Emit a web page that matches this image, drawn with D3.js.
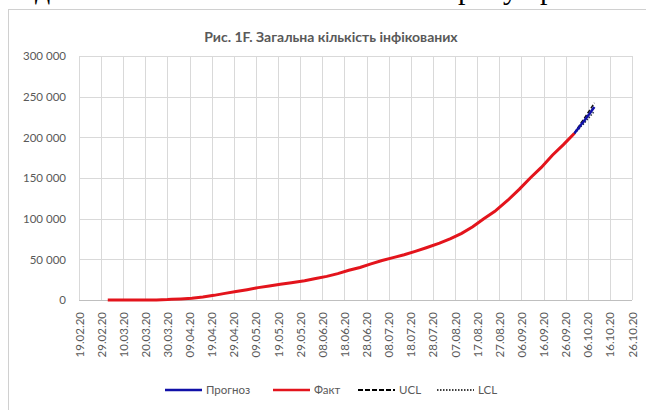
<!DOCTYPE html>
<html>
<head>
<meta charset="utf-8">
<script src="https://cdn.jsdelivr.net/npm/d3@7"></script>
<style>
  body { margin: 0; background: #fff; }
  svg { display: block; font-family: Lato, 'Open Sans', sans-serif; }
</style>
</head>
<body>
<svg width="646" height="410"></svg>
<script>
const parse = d3.timeParse('%d.%m.%y');
const fmt = d3.timeFormat('%d.%m.%y');

// Факт
const factDates = ['03.03.20','10.03.20','13.03.20','17.03.20','20.03.20','25.03.20','30.03.20','01.04.20','05.04.20',
  '10.04.20','15.04.20','20.04.20','25.04.20','30.04.20','05.05.20','10.05.20','15.05.20','20.05.20','25.05.20',
  '31.05.20','05.06.20','10.06.20','15.06.20','20.06.20','25.06.20','30.06.20','05.07.20','10.07.20','15.07.20',
  '20.07.20','25.07.20','31.07.20','05.08.20','10.08.20','15.08.20','20.08.20','25.08.20','31.08.20','05.09.20',
  '10.09.20','15.09.20','20.09.20','25.09.20','30.09.20'];
const factValues = [1, 1, 3, 14, 47, 145, 480, 804, 1319,
  2203, 3764, 5710, 8125, 10406, 12697, 15232, 17330, 19230, 21245,
  23672, 26514, 29070, 32476, 36560, 40008, 44334, 48500, 52043, 55607,
  59802, 64257, 69884, 75490, 82000, 90000, 100000, 109000, 123000, 136000,
  150000, 163000, 178000, 191000, 205000];

// Прогноз, UCL, LCL
const forecastDates = ['30.09.20','01.10.20','02.10.20','03.10.20','04.10.20','05.10.20','06.10.20','07.10.20','08.10.20','09.10.20'];
const forecastValues = [205000, 208700, 211900, 215800, 218900, 222600, 226300, 229600, 233500, 237200];
const uclValues = [205000, 209800, 213600, 218000, 221600, 225800, 229900, 233700, 238100, 242300];
const lclValues = [205000, 207600, 210200, 213600, 216200, 219400, 222700, 225500, 228900, 232100];

const xTickLabels = ['19.02.20','29.02.20','10.03.20','20.03.20','30.03.20','09.04.20','19.04.20','29.04.20','09.05.20',
  '19.05.20','29.05.20','08.06.20','18.06.20','28.06.20','08.07.20','18.07.20','28.07.20','07.08.20','17.08.20',
  '27.08.20','06.09.20','16.09.20','26.09.20','06.10.20','16.10.20','26.10.20'];
const yTicks = [0, 50000, 100000, 150000, 200000, 250000, 300000];

const svg = d3.select('svg');
const plotLeft = 79, plotRight = 632, plotTop = 56, plotBottom = 300;
const grey = '#595959';

// piece of the page text above the chart
svg.append('g')
  .attr('font-family', "'Liberation Serif', serif")
  .attr('font-size', 30)
  .attr('fill', '#000')
  .selectAll('text')
  .data([['д', 35], ['р', 458], ['у', 503], ['р', 540]])
  .join('text')
  .attr('x', d => d[1])
  .attr('y', -1)
  .text(d => d[0]);

svg.append('rect')
  .attr('x', 8.5).attr('y', 9.5)
  .attr('width', 700).attr('height', 500)
  .attr('fill', '#fff')
  .attr('stroke', '#d0d0d0');

const x = d3.scaleTime()
  .domain([parse('19.02.20'), parse('26.10.20')])
  .range([plotLeft, plotRight]);

const y = d3.scaleLinear()
  .domain([0, 300000])
  .range([plotBottom, plotTop]);

const g = svg.append('g');

// gridlines
g.append('g').selectAll('line')
  .data(xTickLabels)
  .join('line')
  .attr('x1', d => Math.round(x(parse(d))) + 0.5)
  .attr('x2', d => Math.round(x(parse(d))) + 0.5)
  .attr('y1', plotTop).attr('y2', plotBottom)
  .attr('stroke', '#d9d9d9');

g.append('g').selectAll('line')
  .data(yTicks)
  .join('line')
  .attr('x1', plotLeft).attr('x2', plotRight)
  .attr('y1', d => Math.round(y(d)) + 0.5)
  .attr('y2', d => Math.round(y(d)) + 0.5)
  .attr('stroke', d => d === 0 ? '#bfbfbf' : '#d9d9d9');

// y axis labels
const yFormat = v => d3.format(',')(v).replace(/,/g, ' ');
g.append('g')
  .attr('transform', `translate(${plotLeft},0)`)
  .call(d3.axisLeft(y).tickValues(yTicks).tickSize(0).tickPadding(13).tickFormat(yFormat))
  .call(a => a.select('.domain').remove())
  .call(a => a.selectAll('text').attr('fill', grey).attr('font-size', 11.5).attr('font-family', 'Lato, sans-serif'));

// x axis labels
g.append('g')
  .attr('transform', `translate(0,${plotBottom})`)
  .call(d3.axisBottom(x).tickValues(xTickLabels.map(parse)).tickSize(0).tickFormat(fmt))
  .call(a => a.select('.domain').remove())
  .call(a => a.selectAll('text')
    .attr('fill', grey)
    .attr('font-size', 11.5)
    .attr('font-family', 'Lato, sans-serif')
    .attr('transform', 'rotate(-90)')
    .attr('text-anchor', 'end')
    .attr('x', -12)
    .attr('y', 0)
    .attr('dy', '0.35em'));

// lines
const line = d3.line().x(d => x(d[0])).y(d => y(d[1]));
const factData = factDates.map((d, i) => [parse(d), factValues[i]]);
const fDates = forecastDates.map(parse);

g.append('path')
  .datum(factData)
  .attr('d', line)
  .attr('fill', 'none')
  .attr('stroke', '#e3141c')
  .attr('stroke-width', 3);

g.append('path')
  .datum(fDates.map((d, i) => [d, lclValues[i]]))
  .attr('d', line)
  .attr('fill', 'none')
  .attr('stroke', '#1f2a44')
  .attr('stroke-width', 1.5)
  .attr('stroke-dasharray', '1.5,1.5');

g.append('path')
  .datum(fDates.map((d, i) => [d, uclValues[i]]))
  .attr('d', line)
  .attr('fill', 'none')
  .attr('stroke', '#111')
  .attr('stroke-width', 1.5)
  .attr('stroke-dasharray', '4,2');

g.append('path')
  .datum(fDates.map((d, i) => [d, forecastValues[i]]))
  .attr('d', line)
  .attr('fill', 'none')
  .attr('stroke', '#1010a8')
  .attr('stroke-width', 2.5);

// title
svg.append('text')
  .attr('x', 331).attr('y', 42)
  .attr('text-anchor', 'middle')
  .attr('font-size', 14)
  .attr('font-weight', 'bold')
  .attr('fill', grey)
  .text('Рис. 1F. Загальна кількість інфікованих');

// legend
const legend = [
  {name: 'Прогноз', x: 165, color: '#1010a8', dash: null, w: 2.5},
  {name: 'Факт', x: 273, color: '#e3141c', dash: null, w: 2.5},
  {name: 'UCL', x: 358, color: '#000', dash: '5,2', w: 2},
  {name: 'LCL', x: 437, color: '#000', dash: '1.5,1.5', w: 1.5}
];
const lg = svg.append('g').selectAll('g').data(legend).join('g')
  .attr('transform', d => `translate(${d.x},390)`);
lg.append('line')
  .attr('x1', 0).attr('x2', 37)
  .attr('stroke', d => d.color)
  .attr('stroke-width', d => d.w)
  .attr('stroke-dasharray', d => d.dash);
lg.append('text')
  .attr('x', 41).attr('dy', '0.35em')
  .attr('font-size', 11.5)
  .attr('fill', grey)
  .text(d => d.name);
</script>
</body>
</html>
